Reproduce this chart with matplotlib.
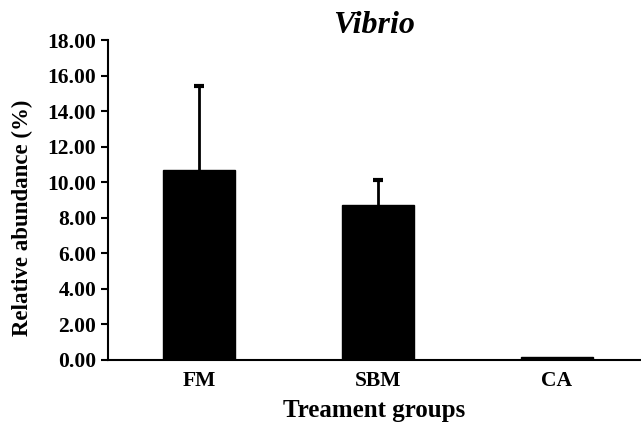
import matplotlib.pyplot as plt

groups = ["FM", "SBM", "CA"]
abundance = [10.68, 8.72, 0.15]
err_up = [4.73, 1.40, 0.0]

plt.rcParams['font.family'] = ['Liberation Serif', 'DejaVu Serif']
plt.rcParams['font.weight'] = 'bold'

fig = plt.figure(figsize=(6.41, 4.22), dpi=100)
ax = fig.add_axes([0.1685, 0.147, 0.8315, 0.758])

x = list(range(len(groups)))
ax.bar(x, abundance, width=0.4, color='black', edgecolor='black')

# error bars only where there is one to show (upper side only)
idx = [i for i in x if err_up[i] > 0]
eb = ax.errorbar([x[i] for i in idx], [abundance[i] for i in idx],
                 yerr=[[0] * len(idx), [err_up[i] for i in idx]], fmt='none',
                 ecolor='black', elinewidth=2, capsize=3.5, capthick=3)
eb[1][0].set_visible(False)

ax.set_xlim(-0.51, 2.47)
ax.set_ylim(0, 18)
ax.set_yticks(range(0, 19, 2))
ax.set_yticklabels([f"{v:.2f}" for v in range(0, 19, 2)], fontsize=15.5, fontweight='bold')
ax.set_xticks(x)
ax.set_xticklabels(groups, fontsize=15.5, fontweight='bold')
ax.tick_params(axis='x', length=0, pad=8)
ax.tick_params(axis='y', length=5, width=1.5, pad=3.5)

for s in ['top', 'right']:
    ax.spines[s].set_visible(False)
for s in ['left', 'bottom']:
    ax.spines[s].set_linewidth(1.5)

ax.set_ylabel("Relative abundance (%)", fontsize=16.5, fontweight='bold')
ax.yaxis.set_label_coords(-0.141, 0.444)
ax.set_xlabel("Treament groups", fontsize=18, fontweight='bold', labelpad=5.5)
ax.set_title("Vibrio", fontsize=23, fontweight='bold', style='italic', pad=5)

fig.savefig("out.png", dpi=100)
